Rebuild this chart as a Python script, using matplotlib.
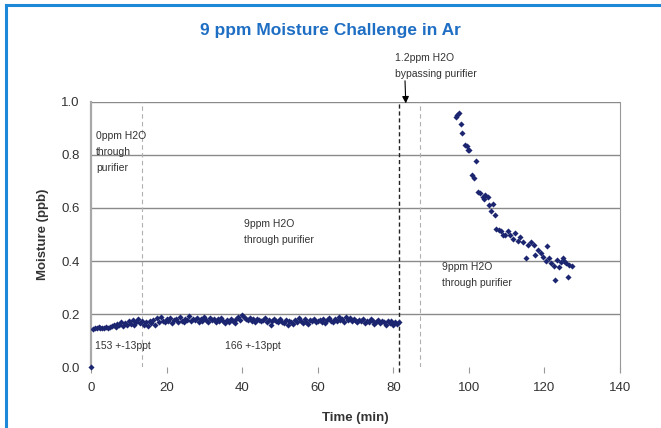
"""9 ppm moisture challenge in Ar: purifier outlet moisture vs time."""

import matplotlib.pyplot as plt
from matplotlib.lines import Line2D

plt.rcParams["font.family"] = ["Liberation Sans", "DejaVu Sans"]

# baseline run: 0 ppm then 9 ppm H2O through purifier, one reading every 0.5 min
base_start = 0.5
base_step = 0.5
base_vals = [
    0.145, 0.148, 0.146, 0.150, 0.147, 0.149, 0.146, 0.151, 0.148, 0.152,
    0.155, 0.160, 0.150, 0.163, 0.158, 0.170, 0.155, 0.165, 0.160, 0.172,
    0.162, 0.178, 0.158, 0.170, 0.182, 0.165, 0.175, 0.160, 0.168, 0.155,
    0.172, 0.165, 0.178, 0.160, 0.185, 0.170, 0.190, 0.175, 0.168, 0.180,
    0.172, 0.185, 0.165, 0.178, 0.182, 0.170, 0.188, 0.175, 0.168, 0.180,
    0.176, 0.192, 0.172, 0.183, 0.178, 0.186, 0.170, 0.180, 0.175, 0.189,
    0.178, 0.170, 0.185, 0.176, 0.182, 0.168, 0.180, 0.174, 0.186, 0.172,
    0.166, 0.178, 0.171, 0.183, 0.175, 0.165, 0.180, 0.188, 0.176, 0.195,
    0.190, 0.183, 0.178, 0.186, 0.174, 0.180, 0.170, 0.182, 0.176, 0.172,
    0.178, 0.184, 0.170, 0.176, 0.158, 0.172, 0.180, 0.175, 0.168, 0.182,
    0.170, 0.165, 0.176, 0.160, 0.172, 0.168, 0.162, 0.178, 0.170, 0.186,
    0.175, 0.166, 0.180, 0.170, 0.163, 0.176, 0.172, 0.180, 0.168, 0.174,
    0.178, 0.170, 0.182, 0.165, 0.176, 0.184, 0.172, 0.168, 0.180, 0.175,
    0.188, 0.176, 0.183, 0.170, 0.190, 0.178, 0.185, 0.172, 0.180, 0.175,
    0.168, 0.178, 0.172, 0.182, 0.165, 0.175, 0.170, 0.180, 0.174, 0.162,
    0.170, 0.176, 0.165, 0.172, 0.168, 0.158, 0.174, 0.166, 0.172, 0.160,
    0.168, 0.163, 0.170,
]
base_time = [base_start + i * base_step for i in range(len(base_vals))]

# first reading at t = 0
t0 = [0.0]
m0 = [0.0]

# recovery after the 1.2 ppm bypass, back to 9 ppm through purifier
rec_time = [
    96.6, 96.9, 97.3, 97.9, 98.3, 99.0, 99.6, 99.9, 100.1, 100.7,
    101.3, 101.9, 102.4, 102.9, 103.8, 104.0, 104.3, 105.0, 105.4, 105.8,
    106.3, 106.9, 107.3, 108.0, 108.6, 109.1, 109.6, 110.3, 110.9, 111.6,
    112.3, 112.9, 113.6, 114.2, 115.1, 115.7, 116.5, 117.2, 117.6, 118.3,
    119.0, 119.6, 120.3, 120.7, 121.1, 121.7, 122.4, 122.7, 123.3, 123.8,
    124.5, 124.9, 125.3, 125.8, 126.3, 126.6, 127.2,
]
rec_vals = [
    0.942, 0.951, 0.960, 0.916, 0.884, 0.838, 0.835, 0.820, 0.819, 0.725,
    0.712, 0.777, 0.662, 0.658, 0.643, 0.635, 0.648, 0.640, 0.611, 0.590,
    0.614, 0.574, 0.519, 0.518, 0.512, 0.500, 0.497, 0.513, 0.500, 0.483,
    0.505, 0.474, 0.490, 0.470, 0.410, 0.459, 0.470, 0.460, 0.422, 0.440,
    0.430, 0.415, 0.400, 0.455, 0.410, 0.393, 0.380, 0.328, 0.405, 0.378,
    0.397, 0.410, 0.400, 0.392, 0.340, 0.385, 0.380,
]

x_ticks = [0, 20, 40, 60, 80, 100, 120, 140]
y_ticks = [0.0, 0.2, 0.4, 0.6, 0.8, 1.0]

NAVY = "#1c2570"
GRID = "#8a8a8a"
TXT = "#333333"

fig = plt.figure(figsize=(6.61, 4.28), dpi=100)
ax = fig.add_axes([0.1377, 0.1425, 0.8003, 0.6192])

# blue frame of the slide
fig.add_artist(Line2D([0.0098, 0.0098], [0, 0.988], color="#1e88d8", lw=2.2))
fig.add_artist(Line2D([0.0098, 1.0], [0.988, 0.988], color="#1e88d8", lw=2.2))

for y in y_ticks[1:]:
    ax.axhline(y, color=GRID, lw=1.0, zorder=1)

ax.axvline(13.4, color="#b0b0b0", lw=0.8, ls=(0, (4, 3)), zorder=1)
ax.axvline(87.0, color="#b0b0b0", lw=0.8, ls=(0, (4, 3)), zorder=1)
ax.plot([81.6, 81.6], [-0.02, 1.0], color="#222222", lw=1.0, ls=(0, (3, 2)),
        clip_on=False, zorder=2)

ms = dict(marker="D", ls="none", color=NAVY, ms=3.1, mew=0, zorder=3)
ax.plot(t0, m0, clip_on=False, **ms)
ax.plot(base_time, base_vals, **ms)
ax.plot(rec_time, rec_vals, **ms)

ax.set_xlim(0, 140)
ax.set_ylim(0, 1.0)
ax.set_xticks(x_ticks)
ax.set_yticks(y_ticks)
ax.set_yticklabels([f"{v:.1f}" for v in y_ticks])
ax.tick_params(axis="x", direction="out", length=4, color="#999999", labelsize=9.5,
               labelcolor=TXT, pad=7)
ax.tick_params(axis="y", length=0, labelsize=9.5, labelcolor=TXT, pad=8)
for s in ("top", "bottom"):
    ax.spines[s].set_visible(False)
ax.spines["left"].set_color("#a8a8a8")
ax.spines["left"].set_linewidth(1.6)
ax.spines["right"].set_color("#999999")
ax.spines["right"].set_bounds(-0.02, 1.0)

ax.set_xlabel("Time (min)", fontsize=9.5, fontweight="bold", color=TXT, labelpad=13)
ax.set_ylabel("Moisture (ppb)", fontsize=9.5, fontweight="bold", color=TXT, labelpad=9)

fig.text(0.5, 0.928, "9 ppm Moisture Challenge in Ar", ha="center", va="center",
         fontsize=12.5, fontweight="bold", color="#1e6ec4")

note = dict(fontsize=7.5, color=TXT, va="top", linespacing=1.75)
ax.text(1.3, 0.89, "0ppm H2O\nthrough\npurifier", **note)
ax.text(40.6, 0.56, "9ppm H2O\nthrough purifier", **note)
ax.text(93.0, 0.395, "9ppm H2O\nthrough purifier", **note)
ax.text(1.0, 0.10, "153 +-13ppt", **note)
ax.text(35.4, 0.10, "166 +-13ppt", **note)
ax.text(80.4, 1.185, "1.2ppm H2O\nbypassing purifier", clip_on=False, **note)
ax.annotate("", xy=(83.3, 0.995), xytext=(83.1, 1.08),
            arrowprops=dict(arrowstyle="-|>", color="black", lw=0.8,
                            mutation_scale=10, shrinkA=0, shrinkB=0),
            annotation_clip=False)

fig.savefig("out.png", dpi=100)
